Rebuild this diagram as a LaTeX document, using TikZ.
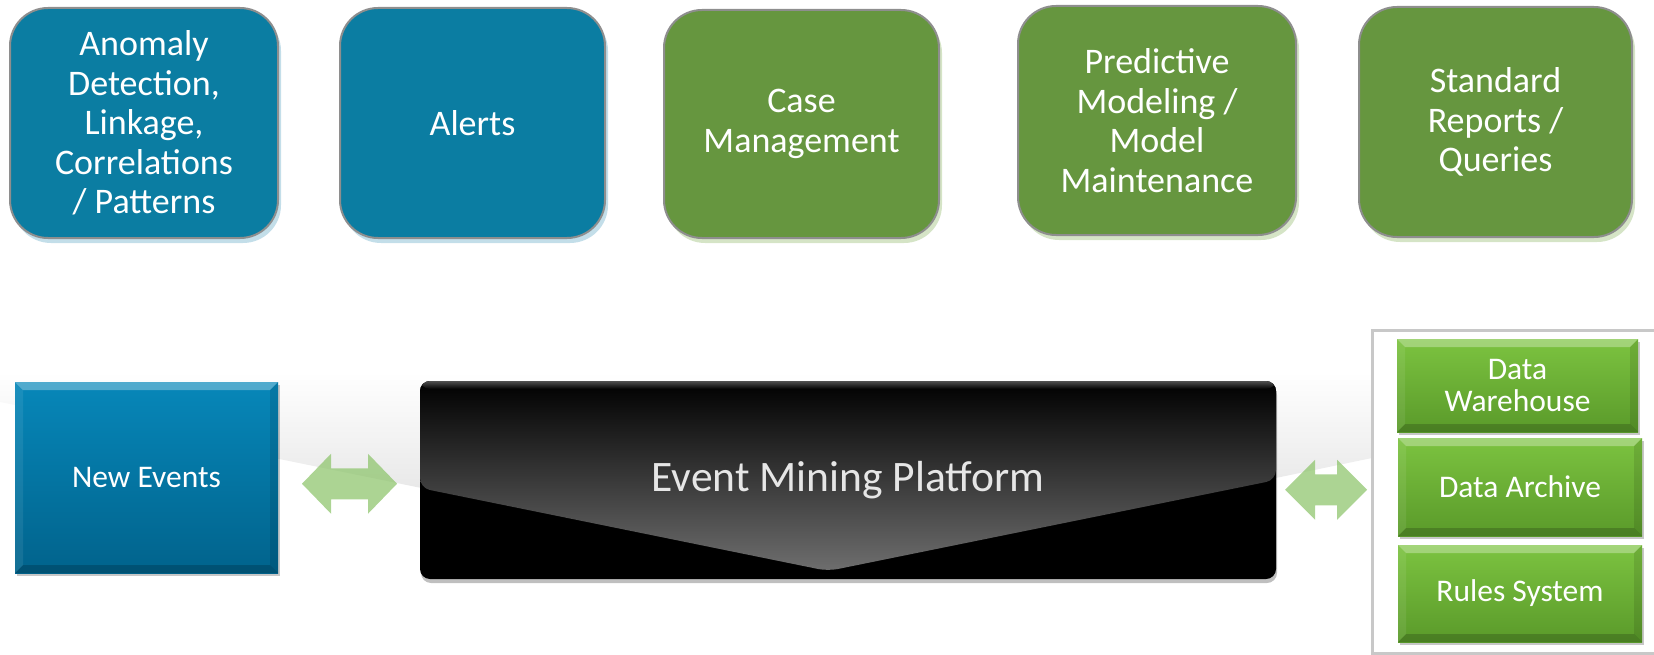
\documentclass[tikz,border=0pt]{standalone}
\usepackage{fontspec}
\setmainfont{Carlito}
\usetikzlibrary{shadows,calc}
\definecolor{tblue}{HTML}{0B7DA2}
\definecolor{tgreen}{HTML}{66963F}
\definecolor{tborder}{HTML}{8E8E8E}
\definecolor{glowblue}{HTML}{A9D0E0}
\definecolor{glowgreen}{HTML}{C3D9AE}
\definecolor{nbtop}{HTML}{0787B9}
\definecolor{nbbot}{HTML}{01638C}
\definecolor{gtop}{HTML}{7CC340}
\definecolor{gbot}{HTML}{5A9A2A}
\definecolor{arrowg}{HTML}{8CC46A}
\definecolor{framegray}{HTML}{C8C8C8}
\definecolor{emptext}{HTML}{E6E6E6}
\begin{document}
\begin{tikzpicture}[x=1pt,y=-1pt,
  topbox/.style={draw=tborder, line width=2pt, rounded corners=38pt, inner sep=0pt, outer sep=0pt,
    text=white, align=center, font=\fontsize{36}{39.5}\selectfont},
  bluetop/.style={topbox, fill=tblue,
    general shadow={fill=glowblue, opacity=0.7, shadow xshift=3pt, shadow yshift=-5pt}},
  greentop/.style={topbox, fill=tgreen,
    general shadow={fill=glowgreen, opacity=0.7, shadow xshift=3pt, shadow yshift=-5pt}},
  bevelbox/.style={inner sep=0pt, outer sep=0pt, text=white, align=center,
    font=\fontsize{31.5}{32}\selectfont,
    general shadow={fill=black, opacity=0.22, shadow xshift=2pt, shadow yshift=-3pt}},
  bluebevel/.style={bevelbox, top color=nbtop, bottom color=nbbot},
  greenbevel/.style={bevelbox, top color=gtop, bottom color=gbot},
  dblarrow/.style={fill=arrowg, opacity=0.72}
]
\useasboundingbox (0,0) rectangle (1654,655);

% background glossy band
\shade[top color=white, bottom color=black!15]
  (0,372) -- (1372,372) -- (1372,458) -- (828,571) -- (0,402) -- cycle;

% top row
\node[bluetop, minimum width=268pt, minimum height=230pt] (anom) at (144,123)
  {Anomaly\\Detection,\\Linkage,\\Correlations\\/ Patterns};
\node[bluetop, minimum width=265pt, minimum height=230pt] (alerts) at (472.5,123) {Alerts};
\node[greentop, minimum width=275pt, minimum height=228pt] (case) at (801.5,124) {Case\\Management};
\node[greentop, minimum width=278pt, minimum height=229pt] (pred) at (1157,120.5)
  {Predictive\\Modeling /\\Model\\Maintenance};
\node[greentop, minimum width=273pt, minimum height=230pt] (std) at (1495.5,122) {Standard\\Reports /\\Queries};

% storage frame
\node[draw=framegray, line width=3pt, fill=white, minimum width=298pt, minimum height=323pt,
  inner sep=0pt, outer sep=0pt] (store) at (1521,491.5) {};

% new events
\node[bluebevel, minimum width=263pt, minimum height=191pt] (ne) at (146.5,477.5) {New Events};

% event mining platform
\node[rounded corners=10pt, fill=black, minimum width=856pt, minimum height=198pt,
  inner sep=0pt, outer sep=0pt, text=emptext, font=\fontsize{43.5}{44}\selectfont,
  general shadow={fill=black, opacity=0.25, shadow xshift=1pt, shadow yshift=-4pt},
  path picture={
    \shade[top color=black, bottom color=black!55!white]
      (path picture bounding box.north west) -- (path picture bounding box.north east)
      -- (path picture bounding box.east)
      -- ($(path picture bounding box.south)+(-20,-8)$)
      -- ($(path picture bounding box.west)+(0,8)$) -- cycle;
    \shade[top color=black!55!white, bottom color=black, opacity=0.7]
      (path picture bounding box.north west) rectangle ($(path picture bounding box.north east)+(0,8)$);
  }] (emp) at (848,480) {\raisebox{-3pt}{Event Mining Platform}};

% storage boxes
\node[greenbevel, minimum width=241pt, minimum height=93pt] (dw) at (1517.5,385.5) {Data\\Warehouse};
\node[greenbevel, minimum width=244pt, minimum height=98pt] (da) at (1520,487) {\raisebox{-1pt}{Data Archive}};
\node[greenbevel, minimum width=244pt, minimum height=97pt] (rs) at (1520,593.5) {\raisebox{-3pt}{Rules System}};

% bevels
\foreach \n in {ne,dw,da,rs} {
  \fill[white, opacity=0.3] (\n.north west) -- (\n.north east) -- ([shift={(-8,8)}]\n.north east)
    -- ([shift={(8,8)}]\n.north west) -- cycle;
  \fill[black, opacity=0.18] (\n.south west) -- (\n.south east) -- ([shift={(-8,-8)}]\n.south east)
    -- ([shift={(8,-8)}]\n.south west) -- cycle;
  \fill[white, opacity=0.08] (\n.north west) -- ([shift={(8,8)}]\n.north west)
    -- ([shift={(8,-8)}]\n.south west) -- (\n.south west) -- cycle;
  \fill[black, opacity=0.1] (\n.north east) -- ([shift={(-8,8)}]\n.north east)
    -- ([shift={(-8,-8)}]\n.south east) -- (\n.south east) -- cycle;
}

% double arrows (connectors)
\coordinate (a1) at ($($(ne.east)!0.5!(emp.west)$)+(0.5,5)$);
\coordinate (a2) at ($(emp.east)!0.5!(store.west)+(2,4)$);
\fill[dblarrow, shift={(a1)}] (-47.5,0) -- (-18.5,-30) -- (-18.5,-15.5) -- (18.5,-15.5) -- (18.5,-30)
  -- (47.5,0) -- (18.5,30) -- (18.5,15.5) -- (-18.5,15.5) -- (-18.5,30) -- cycle;
\fill[dblarrow, shift={(a2)}] (-41,0) -- (-11,-30) -- (-11,-15.5) -- (11,-15.5) -- (11,-30)
  -- (41,0) -- (11,30) -- (11,15.5) -- (-11,15.5) -- (-11,30) -- cycle;
\end{tikzpicture}
\end{document}
